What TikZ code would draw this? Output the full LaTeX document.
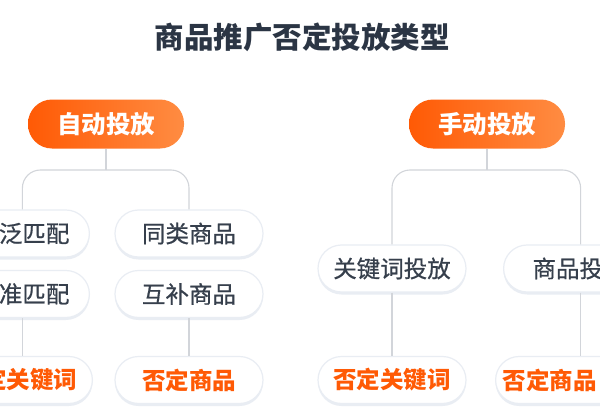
\documentclass[tikz,border=0pt]{standalone}
\usepackage{fontspec}
\usepackage{xcolor}
\setmainfont{Noto Sans CJK SC}
\newfontfamily\leaffont[FakeBold=0.6]{Noto Sans CJK SC}
\usetikzlibrary{positioning,shadows}
\definecolor{titlegray}{HTML}{2B3544}
\definecolor{textgray}{HTML}{363F4C}
\definecolor{brandorange}{HTML}{FF5A05}
\definecolor{brandlight}{HTML}{FF8C42}
\definecolor{linegray}{HTML}{D2D5DA}
\definecolor{edgegray}{HTML}{E9EDF3}

\begin{document}
\begin{tikzpicture}[x=1pt, y=-1pt,
    headpill/.style={rounded corners=24pt, left color=brandorange, right color=brandlight,
      minimum width=156pt, minimum height=49pt, text=white,
      font=\fontsize{24.5}{24.5}\selectfont\bfseries},
    leafpill/.style={rounded corners=23.5pt, fill=white, draw=edgegray, line width=1.2pt,
      drop shadow={shadow xshift=0pt, shadow yshift=-2.5pt, fill=edgegray, opacity=1},
      minimum width=148pt, minimum height=47pt, text=textgray,
      font=\fontsize{23.5}{23.5}\leaffont},
    negpill/.style={leafpill, text=brandorange, font=\fontsize{23.5}{23.5}\selectfont\bfseries},
    link/.style={draw=linegray, line width=1.1pt, rounded corners=18pt}]
      \useasboundingbox (0,0) rectangle (600,420);
      \fill[white] (0,0) rectangle (600,420);
      \clip (0,0) rectangle (600,420);

      \node[text=titlegray, font=\fontsize{29.5}{29.5}\selectfont\bfseries] (title) at (302,37) {商品推广否定投放类型};

      \node[headpill] (auto) at (106,124) {自动投放};
      \node[headpill] (manual) at (487,124) {手动投放};

      \node[leafpill, anchor=east, text width=108pt, inner xsep=20pt, align=right] (broad) at (90,233.5) {泛匹配};
      \node[leafpill, anchor=east, text width=108pt, inner xsep=20pt, align=right] (exact) at (90,294) {准匹配};
      \node[negpill, anchor=east, text width=118pt, inner xsep=15pt, align=right] (negword) at (93,380) {定关键词};
      \node[leafpill] (similar) at (189,233.5) {同类商品};
      \node[leafpill] (complement) at (189,294) {互补商品};
      \node[negpill] (negitem) at (189,380) {否定商品};

      \node[leafpill] (wordad) at (392,268.5) {关键词投放};
      \node[leafpill, anchor=west, text width=90pt, inner xsep=29pt, align=left] (itemad) at (503,268.5) {商品投};
      \node[negpill] (negwordb) at (392,380) {否定关键词};
      \node[negpill, anchor=west, text width=134pt, inner xsep=7pt, align=left] (negitemb) at (495,380) {否定商品};

      \coordinate (autofork) at (106,170);
      \coordinate (manualfork) at (487,170);
      \draw[link] (auto.south) -- (autofork);
      \draw[link] (autofork) -| ([xshift=7pt]broad.north);
      \draw[link] (autofork) -| (similar.north);
      \draw[link] ([xshift=7pt]exact.south) -- ([xshift=4pt]negword.north);
      \draw[link] (complement) -- (negitem);

      \draw[link] (manual.south) -- (manualfork);
      \draw[link] (manualfork) -| (wordad.north);
      \draw[link] (manualfork) -| ([xshift=3pt]itemad.north);
      \draw[link] (wordad) -- (negwordb);
      \draw[link] ([xshift=3pt]itemad.south) -- ([xshift=11pt]negitemb.north);
    \end{tikzpicture}
\end{document}
